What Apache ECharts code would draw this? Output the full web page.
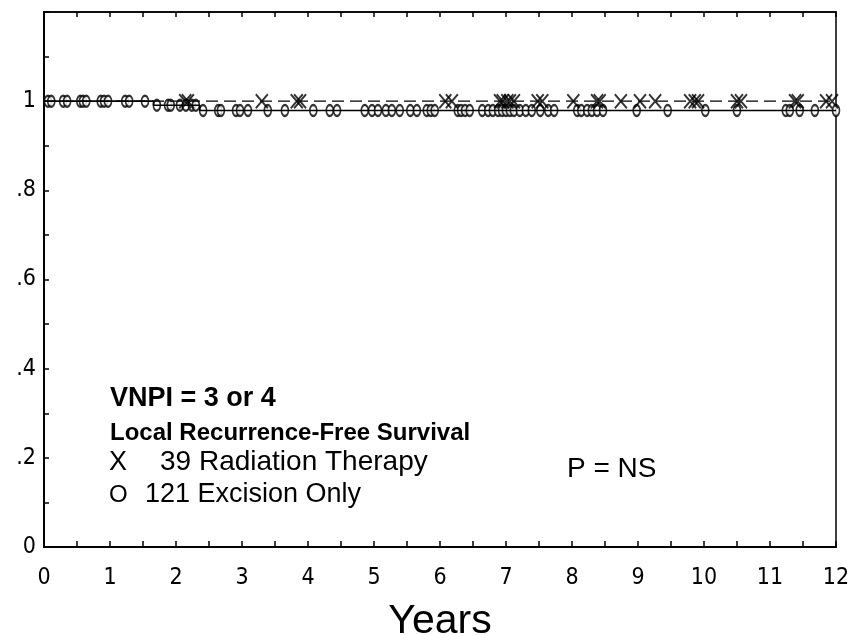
<!DOCTYPE html>
<html>
<head>
<meta charset="utf-8">
<script src="https://cdn.jsdelivr.net/npm/echarts@6/dist/echarts.min.js"></script>
<style>
  html, body { margin: 0; padding: 0; background: #fff; }
  #main { width: 864px; height: 635px; }
</style>
</head>
<body>
<div id="main"></div>
<script>
// Kaplan-Meier steps (years, survival)
const excisionTimes = [0, 1.66, 2.36, 12];
const excisionSurv = [1, 0.991, 0.979, 0.979];
const radiationTimes = [0, 12];
const radiationSurv = [1, 1];

// censored follow-up times (years)
const excisionCensored = [0.06, 0.11, 0.29, 0.35, 0.55, 0.59, 0.64, 0.86, 0.91, 0.97, 1.23, 1.29, 1.53,
  1.71, 1.88, 1.92, 2.06, 2.15, 2.24, 2.30,
  2.41, 2.64, 2.68, 2.91, 2.97, 3.09, 3.39, 3.65, 4.08, 4.33, 4.44, 4.86, 4.97, 5.06, 5.18, 5.27,
  5.39, 5.55, 5.65, 5.80, 5.86, 5.92, 6.27, 6.32, 6.38, 6.45, 6.64, 6.73, 6.80, 6.88, 6.94, 7.00,
  7.06, 7.12, 7.21, 7.30, 7.39, 7.52, 7.64, 7.73, 8.08, 8.14, 8.23, 8.30, 8.38, 8.47, 8.98, 9.45,
  10.02, 10.50, 11.24, 11.30, 11.45, 11.68, 12.0];
const radiationCensored = [2.14, 2.18, 3.30, 3.83, 3.88, 6.08, 6.18, 6.91, 6.95, 7.02, 7.06, 7.12,
  7.48, 7.55, 8.02, 8.38, 8.42, 8.74, 9.03, 9.26, 9.79, 9.86, 9.91, 10.50, 10.56, 11.38, 11.42,
  11.85, 11.94];

const yLabels = { '0': '0', '0.2': '.2', '0.4': '.4', '0.6': '.6', '0.8': '.8', '1': '1' };

function survAt(times, surv, t) {
  let v = surv[0];
  for (let i = 0; i < times.length; i++) {
    if (times[i] <= t) v = surv[i];
  }
  return v;
}
function pairs(xs, ys) {
  return xs.map((x, i) => [x, ys[i]]);
}

const tickFont = '"Liberation Sans Narrow", "DejaVu Sans Condensed", sans-serif';
const textFont = '"Liberation Sans", Arial, sans-serif';

let myChart = echarts.init(document.getElementById('main'));
let option = {
  backgroundColor: '#fff',
  animation: false,
  grid: {
    left: 44, right: 28, top: 12, bottom: 88,
    outerBoundsMode: 'none', containLabel: false,
    show: true, borderColor: '#000', borderWidth: 1.5
  },
  xAxis: [
    {
      type: 'value', min: 0, max: 12, interval: 0.5,
      axisLine: { show: true, lineStyle: { color: '#000', width: 2 } },
      axisTick: { show: true, inside: true, length: 6, lineStyle: { color: '#000', width: 1.5 } },
      splitLine: { show: false },
      axisLabel: {
        color: '#000', fontFamily: tickFont, fontSize: 23, margin: 20,
        formatter: function (v) { return Number.isInteger(v) ? String(v) : ''; }
      },
      name: 'Years', nameLocation: 'middle', nameGap: 54,
      nameTextStyle: { color: '#000', fontFamily: textFont, fontSize: 41 }
    },
    {
      type: 'value', position: 'top', min: 0, max: 12, interval: 0.5,
      axisLine: { show: true, lineStyle: { color: '#000', width: 1.5 } },
      axisTick: { show: true, inside: true, length: 5, lineStyle: { color: '#000', width: 1.5 } },
      splitLine: { show: false },
      axisLabel: { show: false }
    }
  ],
  yAxis: {
    type: 'value', min: 0, max: 1.2, interval: 0.1,
    axisLine: { show: true, lineStyle: { color: '#000', width: 2 } },
    axisTick: { show: true, inside: true, length: 5, lineStyle: { color: '#000', width: 1.5 } },
    splitLine: { show: false },
    axisLabel: {
      color: '#000', fontFamily: tickFont, fontSize: 23, margin: 8,
      formatter: function (v) { return yLabels[String(Math.round(v * 10) / 10)] || ''; }
    }
  },
  series: [
    {
      name: 'Excision Only', type: 'line', step: 'end', showSymbol: false,
      data: pairs(excisionTimes, excisionSurv),
      lineStyle: { color: '#000', width: 1.6, type: 'solid' }
    },
    {
      name: 'Radiation Therapy', type: 'line', step: 'end', showSymbol: false,
      data: pairs(radiationTimes, radiationSurv),
      lineStyle: { color: '#000', width: 1.4, type: [12, 6] }
    },
    {
      name: 'Excision censored', type: 'scatter', symbol: 'emptyCircle', symbolSize: [7, 11],
      itemStyle: { color: '#000', borderColor: '#000', borderWidth: 2 },
      data: excisionCensored.map(t => [t, survAt(excisionTimes, excisionSurv, t)])
    },
    {
      name: 'Radiation censored', type: 'scatter', symbol: 'path://M0,0L10,12M10,0L0,12', symbolSize: [12, 14],
      itemStyle: { color: 'none', borderColor: '#000', borderWidth: 2 },
      data: radiationCensored.map(t => [t, survAt(radiationTimes, radiationSurv, t)])
    }
  ],
  graphic: [
    { type: 'text', left: 110, top: 385, style: { text: 'VNPI = 3 or 4', font: 'bold 27px ' + textFont, fill: '#000' } },
    { type: 'text', left: 110, top: 421, style: { text: 'Local Recurrence-Free Survival', font: 'bold 24px ' + textFont, fill: '#000' } },
    { type: 'text', left: 109, top: 449, style: { text: 'X', font: '27px ' + textFont, fill: '#000' } },
    { type: 'text', left: 160, top: 448, style: { text: '39 Radiation Therapy', font: '28px ' + textFont, fill: '#000' } },
    { type: 'text', left: 109, top: 483, style: { text: 'O', font: '24px ' + textFont, fill: '#000' } },
    { type: 'text', left: 145, top: 481, style: { text: '121 Excision Only', font: '27px ' + textFont, fill: '#000' } },
    { type: 'text', left: 567, top: 455, style: { text: 'P = NS', font: '28px ' + textFont, fill: '#000' } }
  ]
};
myChart.setOption(option);
</script>
</body>
</html>
